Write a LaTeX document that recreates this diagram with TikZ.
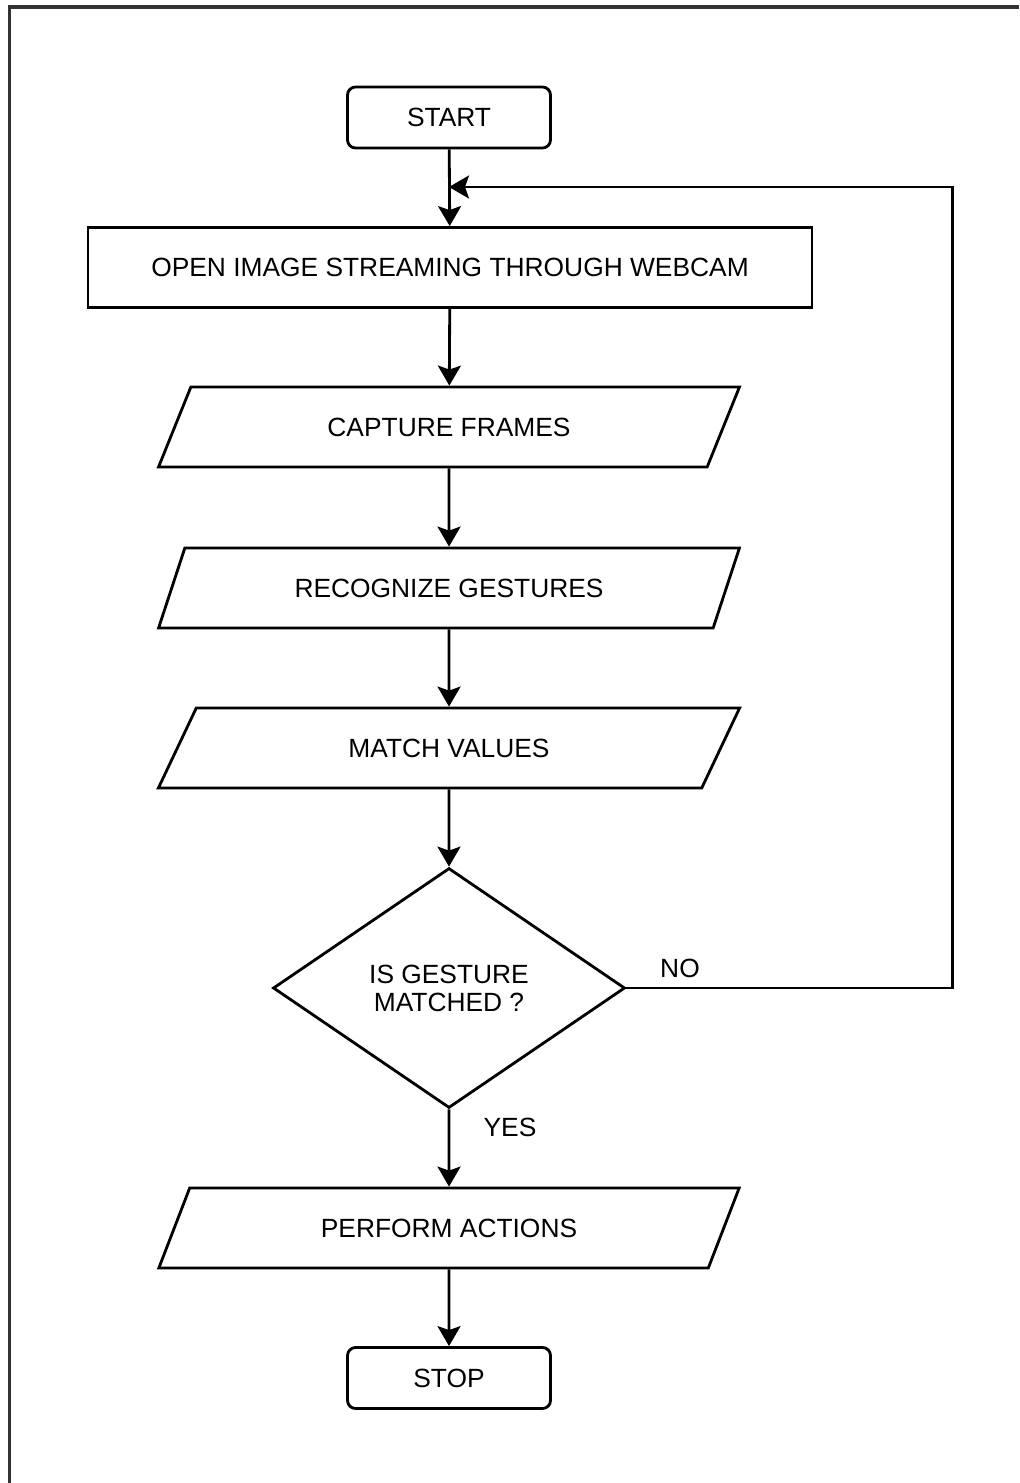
\documentclass[tikz,border=0pt]{standalone}
\usepackage{fontspec}
\setmainfont{Liberation Sans}
\usetikzlibrary{shapes.geometric,arrows.meta}

\begin{document}
\begin{tikzpicture}[x=0.02cm,y=-0.02cm]
\tikzstyle{every node}+=[font=\fontsize{15}{18}\selectfont]
\tikzstyle{term}=[draw, line width=1.6pt, rounded corners=0.16cm, minimum width=4.06cm, minimum height=1.22cm]
\tikzstyle{proc}=[draw, line width=1.6pt, minimum width=14.48cm, minimum height=1.6cm]
\tikzstyle{io}=[draw, line width=1.6pt, trapezium, trapezium left angle=62.3, trapezium right angle=117.7, trapezium stretches=true, minimum width=11.64cm, minimum height=1.6cm]
\tikzstyle{dec}=[draw, line width=1.6pt, diamond, aspect=1.467, minimum width=7.04cm, minimum height=4.8cm, inner sep=0pt, align=center, font=\fontsize{15}{16}\selectfont]
\tikzstyle{flow}=[line width=1.6pt, -{Stealth[length=0.4cm, width=0.46cm, inset=0.08cm]}]
\useasboundingbox (0,0) rectangle (1019,1483);
\draw [line width=2pt, black!80] (9.5,1483) -- (9.5,7) -- (1019,7);
\node [term] (start) at (449,117.5) {START};
\node [proc] (open) at (450,267.5) {OPEN IMAGE STREAMING THROUGH WEBCAM};
\node [io] (capture) at (449,427) {CAPTURE FRAMES};
\node [io] (recog) at (449,588) {RECOGNIZE GESTURES};
\node [io] (match) at (449,748) {MATCH VALUES};
\node [dec] (check) at (449,988) {IS GESTURE\\MATCHED ?};
\node [io] (perform) at (449,1228) {PERFORM ACTIONS};
\node [term] (stop) at (449,1378) {STOP};
\coordinate (back) at (449,187);
\node (no) at (680,968) {NO};
\node (yes) at (510,1127) {YES};
\draw [flow] (start) -- (open);
\draw [flow] (open) -- (capture);
\draw [flow] (capture) -- (recog);
\draw [flow] (recog) -- (match);
\draw [flow] (match) -- (check);
\draw [flow] (check) -- (perform);
\draw [flow] (perform) -- (stop);
\draw [flow] (check.east) -- ++(326,0) |- (back);
\end{tikzpicture}
\end{document}
